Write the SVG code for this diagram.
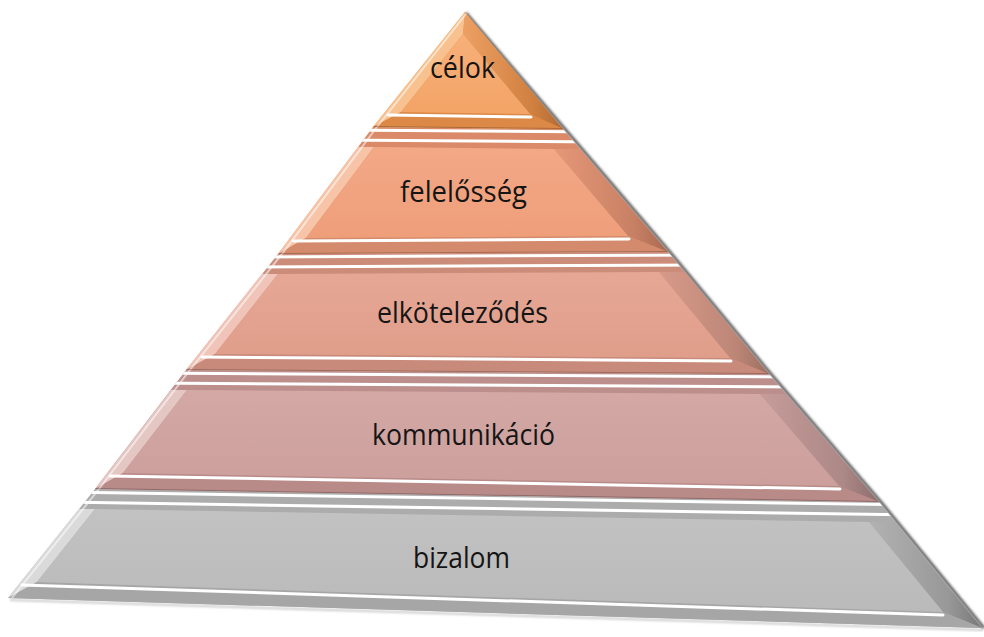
<svg xmlns="http://www.w3.org/2000/svg" width="984" height="637" viewBox="0 0 984 637">
<style>
.lbl{font-family:"Open Sans","Liberation Sans",sans-serif;font-size:30px;fill:#151515}
.hl{stroke:#ffffff;stroke-width:3;fill:none;stroke-linecap:round}
.hl2{stroke:#ffffff;stroke-width:2;fill:none;opacity:0.55}
.gap{stroke:#000;stroke-opacity:0.22;stroke-width:2;fill:none}
</style>
<defs>
<filter id="blur" x="-5%" y="-5%" width="110%" height="110%"><feGaussianBlur stdDeviation="1.2"/></filter>
<linearGradient id="f1" x1="0" y1="0" x2="0" y2="1"><stop offset="0" stop-color="#F7B07A"/><stop offset="1" stop-color="#F3A466"/></linearGradient>
<linearGradient id="f2" x1="0" y1="0" x2="0" y2="1"><stop offset="0" stop-color="#F3A886"/><stop offset="1" stop-color="#EF9E7A"/></linearGradient>
<linearGradient id="f3" x1="0" y1="0" x2="0" y2="1"><stop offset="0" stop-color="#E6A795"/><stop offset="1" stop-color="#DF9E8A"/></linearGradient>
<linearGradient id="f4" x1="0" y1="0" x2="0" y2="1"><stop offset="0" stop-color="#D3A8A5"/><stop offset="1" stop-color="#CC9F9C"/></linearGradient>
<linearGradient id="f5" x1="0" y1="0" x2="0" y2="1"><stop offset="0" stop-color="#C2C2C2"/><stop offset="1" stop-color="#BABABA"/></linearGradient>
<linearGradient id="r1" x1="0" y1="0" x2="1" y2="0"><stop offset="0" stop-color="#EDA064"/><stop offset="0.7" stop-color="#D08040"/><stop offset="1" stop-color="#B06A34"/></linearGradient>
<linearGradient id="r2" x1="0" y1="0" x2="1" y2="0"><stop offset="0" stop-color="#E69878"/><stop offset="0.7" stop-color="#C88064"/><stop offset="1" stop-color="#A86A52"/></linearGradient>
<linearGradient id="r3" x1="0" y1="0" x2="1" y2="0"><stop offset="0" stop-color="#D89A8A"/><stop offset="0.7" stop-color="#BC8676"/><stop offset="1" stop-color="#9C7062"/></linearGradient>
<linearGradient id="r4" x1="0" y1="0" x2="1" y2="0"><stop offset="0" stop-color="#C69C99"/><stop offset="0.7" stop-color="#AC8886"/><stop offset="1" stop-color="#8C6E6E"/></linearGradient>
<linearGradient id="r5" x1="0" y1="0" x2="1" y2="0"><stop offset="0" stop-color="#B2B2B2"/><stop offset="0.7" stop-color="#989898"/><stop offset="1" stop-color="#787878"/></linearGradient>
<clipPath id="c1"><polygon points="465,12 563,129 373,127"/></clipPath>
<clipPath id="c2"><polygon points="373,127 563,129 668,252 278,254"/></clipPath>
<clipPath id="c3"><polygon points="278,254 668,252 769,374 186,370"/></clipPath>
<clipPath id="c4"><polygon points="186,370 769,374 879,502 95,489"/></clipPath>
<clipPath id="c5"><polygon points="95,489 879,502 982,628 8,598"/></clipPath>
</defs>

<polyline points="466,13 565,129 670,252 771,374 881,502 984,628" fill="none" stroke="#333" stroke-width="3" stroke-opacity="0.75" filter="url(#blur)"/>
<polyline points="10,600 983,630" fill="none" stroke="#777" stroke-width="2" stroke-opacity="0.4" filter="url(#blur)"/>

<g id="layer-bizalom">
<polygon points="95,489 879,502 982,628 8,598" fill="#ACACAC"/>
<polygon points="79,509 95,509 37,582 8,598" fill="#DADADA"/>
<polygon points="869,522 895,522 982,628 943,612" fill="url(#r5)"/>
<polygon points="37,582 943,612 982,628 8,598" fill="#A6A6A6"/>
<polygon points="95,509 869,522 943,612 37,582" fill="url(#f5)"/>
<g clip-path="url(#c5)">
<line x1="55" y1="492" x2="919" y2="505" class="hl" stroke-width="2.5"/>
<line x1="55" y1="502" x2="919" y2="515" class="hl"/>
<line x1="22" y1="585" x2="943" y2="615" class="hl"/>
<line x1="99" y1="489" x2="12" y2="598" class="hl2"/>
</g>
<text class="lbl" x="413" y="568" textLength="97" lengthAdjust="spacingAndGlyphs">bizalom</text>
</g>

<g id="layer-kommunikacio">
<polygon points="186,370 769,374 879,502 95,489" fill="#BC8F8C"/>
<polygon points="171,390 187,390 123,473 95,489" fill="#E4C6C3"/>
<polygon points="760,394 786,394 879,502 839,486" fill="url(#r4)"/>
<polygon points="123,473 839,486 879,502 95,489" fill="#B88A88"/>
<polygon points="187,390 760,394 839,486 123,473" fill="url(#f4)"/>
<g clip-path="url(#c4)">
<line x1="146" y1="373" x2="809" y2="377" class="hl" stroke-width="2.5"/>
<line x1="146" y1="383" x2="809" y2="387" class="hl"/>
<line x1="110" y1="476" x2="840" y2="489" class="hl"/>
<line x1="190" y1="370" x2="99" y2="489" class="hl2"/>
<line x1="95" y1="489" x2="879" y2="502" class="gap"/>
</g>
<text class="lbl" x="372" y="445" textLength="183" lengthAdjust="spacingAndGlyphs">kommunikáció</text>
</g>

<g id="layer-elkotelezodes">
<polygon points="278,254 668,252 769,374 186,370" fill="#CC8C7A"/>
<polygon points="262,274 278,274 215,354 186,370" fill="#F0C4B8"/>
<polygon points="659,272 685,272 769,374 730,358" fill="url(#r3)"/>
<polygon points="215,354 730,358 769,374 186,370" fill="#C88A7A"/>
<polygon points="278,274 659,272 730,358 215,354" fill="url(#f3)"/>
<g clip-path="url(#c3)">
<line x1="238" y1="257" x2="708" y2="255" class="hl" stroke-width="2.5"/>
<line x1="238" y1="267" x2="708" y2="265" class="hl"/>
<line x1="202" y1="357" x2="731" y2="361" class="hl"/>
<line x1="282" y1="254" x2="190" y2="370" class="hl2"/>
<line x1="186" y1="370" x2="769" y2="374" class="gap"/>
</g>
<text class="lbl" x="377" y="323" textLength="171" lengthAdjust="spacingAndGlyphs">elköteleződés</text>
</g>

<g id="layer-felelosseg">
<polygon points="373,127 563,129 668,252 278,254" fill="#DA8A68"/>
<polygon points="358,147 374,147 306,238 278,254" fill="#F7C4A8"/>
<polygon points="554,149 580,149 668,252 628,236" fill="url(#r2)"/>
<polygon points="306,238 628,236 668,252 278,254" fill="#D48A6C"/>
<polygon points="374,147 554,149 628,236 306,238" fill="url(#f2)"/>
<g clip-path="url(#c2)">
<line x1="333" y1="130" x2="603" y2="132" class="hl" stroke-width="2.5"/>
<line x1="333" y1="140" x2="603" y2="142" class="hl"/>
<line x1="293" y1="241" x2="629" y2="239" class="hl"/>
<line x1="377" y1="127" x2="282" y2="254" class="hl2"/>
<line x1="278" y1="254" x2="668" y2="252" class="gap"/>
</g>
<text class="lbl" x="400" y="202" textLength="127" lengthAdjust="spacingAndGlyphs">felelősség</text>
</g>

<g id="layer-celok">
<polygon points="465,12 563,129 373,127" fill="#E48E48"/>
<polygon points="465,12 463,34 401,112 373,127" fill="#F8C290"/>
<polygon points="465,12 563,129 530,114 463,34" fill="url(#r1)"/>
<polygon points="401,112 530,114 563,129 373,127" fill="#DC8846"/>
<polygon points="463,34 530,114 401,112" fill="url(#f1)"/>
<g clip-path="url(#c1)">
<line x1="388" y1="115" x2="531" y2="117" class="hl"/>
<line x1="466" y1="14" x2="377" y2="127" class="hl2"/>
<line x1="373" y1="127" x2="563" y2="129" class="gap"/>
</g>
<text class="lbl" x="430" y="78" textLength="65" lengthAdjust="spacingAndGlyphs">célok</text>
</g>

<g id="connectors"></g>
</svg>
